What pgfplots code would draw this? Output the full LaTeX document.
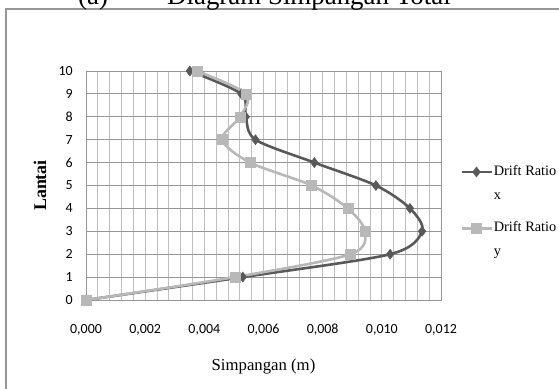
\documentclass[border=0pt]{standalone}
\usepackage{pgfplots}
\pgfplotsset{compat=1.18}
\usepackage{fontspec}
\setmainfont{Liberation Serif}
\newfontfamily\carlito{Carlito}

\definecolor{seriesx}{RGB}{89,89,89}
\definecolor{seriesy}{RGB}{184,184,184}
\definecolor{hgrid}{RGB}{150,150,150}
\definecolor{vgrid}{RGB}{192,192,192}
\definecolor{frame}{RGB}{150,150,150}

% drift per storey: simpangan (m) against lantai
\pgfplotstableread{
s        lantai
0.0000   0
0.0053   1
0.01028  2
0.01136  3
0.01095  4
0.0098   5
0.00772  6
0.00573  7
0.0054   8
0.00525  9
0.00351  10
}\driftx
\pgfplotstableread{
s        lantai
0.0000   0
0.00503  1
0.00894  2
0.00943  3
0.00885  4
0.00763  5
0.00555  6
0.0046   7
0.0052   8
0.00542  9
0.00375  10
}\drifty

\begin{document}
\begin{tikzpicture}
\useasboundingbox (0,0) rectangle (559bp,-389bp);
\clip (0,0) rectangle (559bp,-389bp);
% chart area frame
\draw[line width=1.5bp, draw=frame] (6bp,-9bp) rectangle (580bp,-420bp);
% title
\node[anchor=base west, inner sep=0pt, font=\fontsize{27}{30}\selectfont] at (78bp,-4bp) {(a)};
\node[anchor=base west, inner sep=0pt, font=\fontsize{27}{30}\selectfont] at (167bp,-4bp) {Diagram Simpangan Total};
\begin{axis}[
  at={(86bp,-300bp)}, anchor=south west,
  scale only axis, width=355bp, height=229bp,
  xmin=0, xmax=0.012, ymin=0, ymax=10,
  xtick={0,0.002,0.004,0.006,0.008,0.010,0.012},
  ytick={0,1,...,10},
  minor x tick num=4,
  scaled x ticks=false,
  major tick length=0pt, minor tick length=0pt,
  grid=both,
  major x grid style={vgrid, line width=0.9bp},
  minor x grid style={vgrid, line width=0.9bp},
  major y grid style={hgrid, line width=0.9bp},
  axis line style={hgrid, line width=0.9bp},
  /pgf/number format/assume math mode=true,
  xticklabel style={/pgf/number format/fixed, /pgf/number format/fixed zerofill,
    /pgf/number format/precision=3, /pgf/number format/use comma},
  ticklabel style={font=\carlito\fontsize{14}{16}\selectfont},
  xticklabel style={anchor=base, yshift=-33bp},
  yticklabel style={anchor=east, inner sep=0pt, xshift=-13bp},
  xlabel={Simpangan (m)},
  xlabel style={font=\fontsize{16.8}{19}\selectfont, at={(axis description cs:0.5,0)}, anchor=base, yshift=-70bp},
  ylabel={Lantai},
  ylabel style={font=\bfseries\fontsize{18}{20}\selectfont, at={(axis description cs:-0.1296,0.5)}, anchor=center},
  legend style={at={(axis description cs:1,1)}, anchor=north west, xshift=19bp, yshift=-93bp,
    draw=none, fill=none, inner sep=0pt, row sep=19bp,
    font=\fontsize{14.4}{24}\selectfont,
    nodes={inner sep=1bp, align=left}},
  legend cell align=left,
  legend image code/.code={\draw[mark repeat=2, mark phase=2] plot coordinates {(0bp,11bp) (15bp,11bp) (30bp,11bp)};},
]
\addplot[seriesx, line width=2.6bp, smooth, mark=diamond*, mark size=5bp,
  mark options={fill=seriesx, draw=seriesx, line width=0.5bp}] table[x=s, y=lantai] {\driftx};
\addlegendentry{Drift Ratio\\x}
\addplot[seriesy, line width=2.6bp, smooth, mark=square*, mark size=5bp,
  mark options={fill=seriesy, draw=seriesy, line width=0.5bp}] table[x=s, y=lantai] {\drifty};
\addlegendentry{Drift Ratio\\y}
\end{axis}
\end{tikzpicture}
\end{document}
